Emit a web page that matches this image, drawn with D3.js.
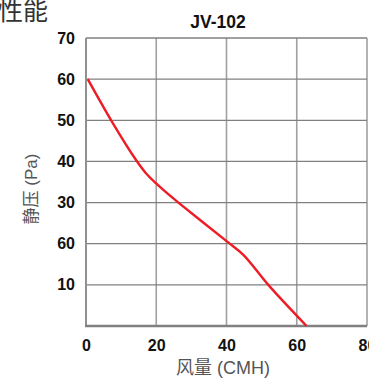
<!DOCTYPE html>
<html><head><meta charset="utf-8">
<script src="https://cdn.jsdelivr.net/npm/d3@7"></script>
<style>body{margin:0;background:#fff;overflow:hidden}svg{display:block}</style>
</head><body>
<svg id="c" width="369" height="381"></svg>
<script>
const title = "JV-102";
const pageLabel = "性能";
const xLabel = "风量 (CMH)";
const yLabel = "静压 (Pa)";
const xTicks = [0, 20, 40, 60, 80];
const yTicks = [10, 20, 30, 40, 50, 60, 70];
const yTickLabels = ["10", "60", "30", "40", "50", "60", "70"];
const flow = [0.5, 7.5, 14.2, 17, 19.9, 22.5, 26.3, 40.2, 44.8, 51.9, 62.8];
const pressure = [60, 49.5, 40.4, 37.2, 34.7, 32.7, 30, 20.5, 17.3, 10, 0];

const svg = d3.select("#c");
const L = 86, R = 367, T = 38, B = 326;
const x = d3.scaleLinear().domain([0, 80]).range([L, R]);
const y = d3.scaleLinear().domain([0, 70]).range([B, T]);

// grid
svg.append("g").selectAll("line").data(xTicks.slice(1)).join("line")
  .attr("x1", d => x(d)).attr("x2", d => x(d)).attr("y1", T).attr("y2", B)
  .attr("stroke", "#a0a0a0").attr("stroke-width", 1.6);
svg.append("g").selectAll("line").data(yTicks).join("line")
  .attr("x1", L).attr("x2", R).attr("y1", d => y(d)).attr("y2", d => y(d))
  .attr("stroke", "#808080").attr("stroke-width", 1.3);
// axes lines
svg.append("line").attr("x1", L).attr("x2", L).attr("y1", T).attr("y2", B + 1)
  .attr("stroke", "#909090").attr("stroke-width", 2);
svg.append("line").attr("x1", L - 1).attr("x2", R).attr("y1", B).attr("y2", B)
  .attr("stroke", "#808080").attr("stroke-width", 2.5);

// tick labels via axes
const fontTick = "'Liberation Sans', Arial, sans-serif";
const yAxis = d3.axisLeft(y).tickValues(yTicks).tickSize(0).tickPadding(11)
  .tickFormat((d, i) => yTickLabels[i]);
const gy = svg.append("g").attr("transform", `translate(${L},0)`).call(yAxis);
gy.select(".domain").remove();
gy.selectAll("text").attr("font-family", fontTick).attr("font-size", 16)
  .attr("font-weight", "bold").attr("fill", "#111");

const xAxis = d3.axisBottom(x).tickValues(xTicks).tickSize(0).tickPadding(14);
const gx = svg.append("g").attr("transform", `translate(0,${B})`).call(xAxis);
gx.select(".domain").remove();
gx.selectAll("text").attr("font-family", fontTick).attr("font-size", 16)
  .attr("font-weight", "bold").attr("fill", "#111");

// curve
const pts = flow.map((f, i) => [f, pressure[i]]);
svg.append("path").datum(pts)
  .attr("d", d3.line().x(d => x(d[0])).y(d => y(d[1])).curve(d3.curveCatmullRom.alpha(0.5)))
  .attr("fill", "none").attr("stroke", "#ee1c25").attr("stroke-width", 2.4)
  .attr("stroke-linejoin", "round");

// titles
svg.append("text").attr("x", 218).attr("y", 28).attr("text-anchor", "middle")
  .attr("font-family", fontTick).attr("font-size", 17.5).attr("font-weight", "bold")
  .attr("fill", "#111").text(title);
svg.append("text").attr("x", 48).attr("y", 20).attr("text-anchor", "end")
  .attr("font-family", "'Noto Sans CJK SC', sans-serif").attr("font-size", 25)
  .attr("fill", "#333").text(pageLabel);
svg.append("text").attr("x", 223).attr("y", 374).attr("text-anchor", "middle")
  .attr("font-family", "'Liberation Sans', 'Noto Sans CJK SC', sans-serif").attr("font-size", 18)
  .attr("fill", "#555").text(xLabel);
svg.append("text").attr("transform", "translate(37,189) rotate(-90)").attr("text-anchor", "middle")
  .attr("font-family", "'Liberation Sans', 'Noto Sans CJK SC', sans-serif").attr("font-size", 17)
  .attr("fill", "#555").attr("xml:space", "preserve").text(yLabel);
</script>
</body></html>
